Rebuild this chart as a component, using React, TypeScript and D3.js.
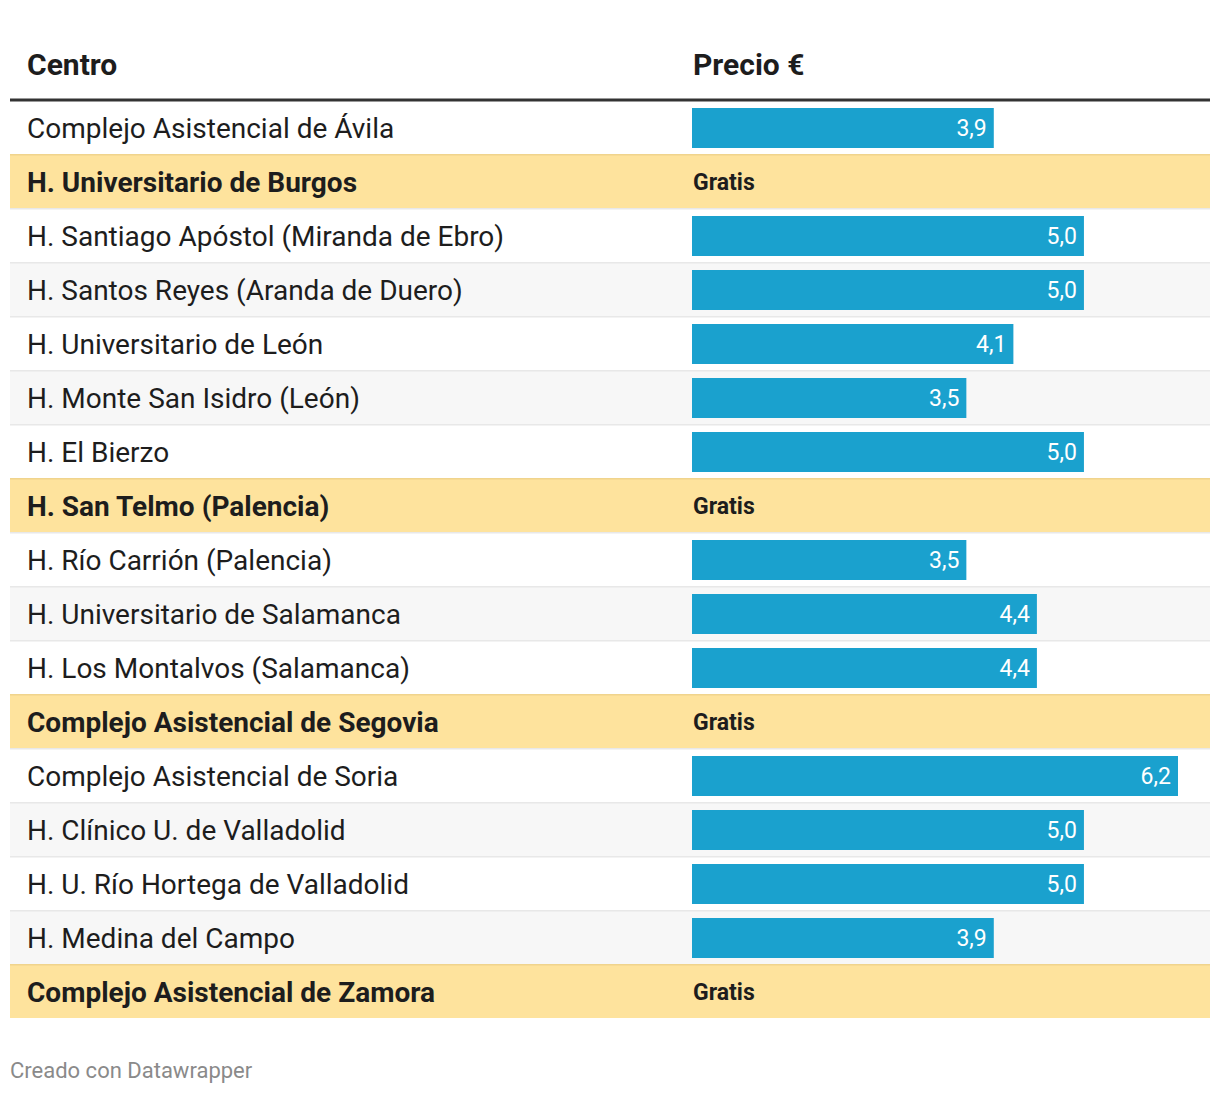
import React from "react";
import * as d3 from "d3";

const centros: string[] = [
  "Complejo Asistencial de Ávila",
  "H. Universitario de Burgos",
  "H. Santiago Apóstol (Miranda de Ebro)",
  "H. Santos Reyes (Aranda de Duero)",
  "H. Universitario de León",
  "H. Monte San Isidro (León)",
  "H. El Bierzo",
  "H. San Telmo (Palencia)",
  "H. Río Carrión (Palencia)",
  "H. Universitario de Salamanca",
  "H. Los Montalvos (Salamanca)",
  "Complejo Asistencial de Segovia",
  "Complejo Asistencial de Soria",
  "H. Clínico U. de Valladolid",
  "H. U. Río Hortega de Valladolid",
  "H. Medina del Campo",
  "Complejo Asistencial de Zamora",
];

// null = "Gratis"
const precios: (number | null)[] = [
  3.85, null, 5.0, 5.0, 4.1, 3.5, 5.0, null, 3.5, 4.4, 4.4, null, 6.2, 5.0, 5.0, 3.85, null,
];

const headers: string[] = ["Centro", "Precio €"];
const gratisLabel = "Gratis";
const footer = "Creado con Datawrapper";

const W = 1220;
const H = 1094;
const left = 10;
const right = 1210;
const headerLineY = 100;
const rowTop = 100;
const rowH = 54;
const col2X = 692;
const barH = 40;
const FONT = "Roboto, 'Noto Sans', sans-serif";

export default function App() {
  const maxV = d3.max(precios.filter((d): d is number => d !== null)) as number;
  const x = d3.scaleLinear().domain([0, maxV]).range([col2X, col2X + 486]);
  const y = d3
    .scaleBand<number>()
    .domain(d3.range(centros.length))
    .range([rowTop, rowTop + rowH * centros.length])
    .padding(0);
  const fmt = (v: number) => d3.format(".1f")(v).replace(".", ",");

  return (
    <svg
      width={W}
      height={H}
      viewBox={`0 0 ${W} ${H}`}
      style={{ position: "absolute", left: 0, top: 0, background: "#fff" }}
      fontFamily={FONT}
    >
      <rect x={0} y={0} width={W} height={H} fill="#fff" />
      {/* header */}
      <text x={27} y={75} fontSize={30} fontWeight={700} fill="#1d1d1d">
        {headers[0]}
      </text>
      <text x={693} y={75} fontSize={30} fontWeight={700} fill="#1d1d1d">
        {headers[1]}
      </text>

      {centros.map((c, i) => {
        const p = precios[i];
        const free = p === null;
        const y0 = y(i) as number;
        const bg = free ? "#fee39d" : i % 2 === 1 ? "#f7f7f7" : "#ffffff";
        const lineColor = free ? "#f0d48d" : "#e8e8e8";
        return (
          <g key={c}>
            <rect x={left} y={y0} width={right - left} height={rowH} fill={bg} />
            {i > 0 && (
              <rect x={left} y={y0} width={right - left} height={1.5} fill={lineColor} />
            )}
            <text
              x={27}
              y={y0 + 38}
              fontSize={28}
              fontWeight={free ? 700 : 400}
              fill="#1d1d1d"
            >
              {c}
            </text>
            {free ? (
              <text x={693} y={y0 + 35.5} fontSize={23} fontWeight={700} fill="#1d1d1d">
                {gratisLabel}
              </text>
            ) : (
              <g>
                <rect
                  x={col2X}
                  y={y0 + 8}
                  width={x(p as number) - col2X}
                  height={barH}
                  fill="#1aa1ce"
                />
                <text
                  x={x(p as number) - 7}
                  y={y0 + 36}
                  textAnchor="end"
                  fontSize={23}
                  fill="#ffffff"
                >
                  {fmt(p as number)}
                </text>
              </g>
            )}
          </g>
        );
      })}

      {/* header line */}
      <rect x={left} y={headerLineY - 1.5} width={right - left} height={3} fill="#333333" />

      <text x={10} y={1078} fontSize={22} fill="#8a8a8a">
        {footer}
      </text>
    </svg>
  );
}
